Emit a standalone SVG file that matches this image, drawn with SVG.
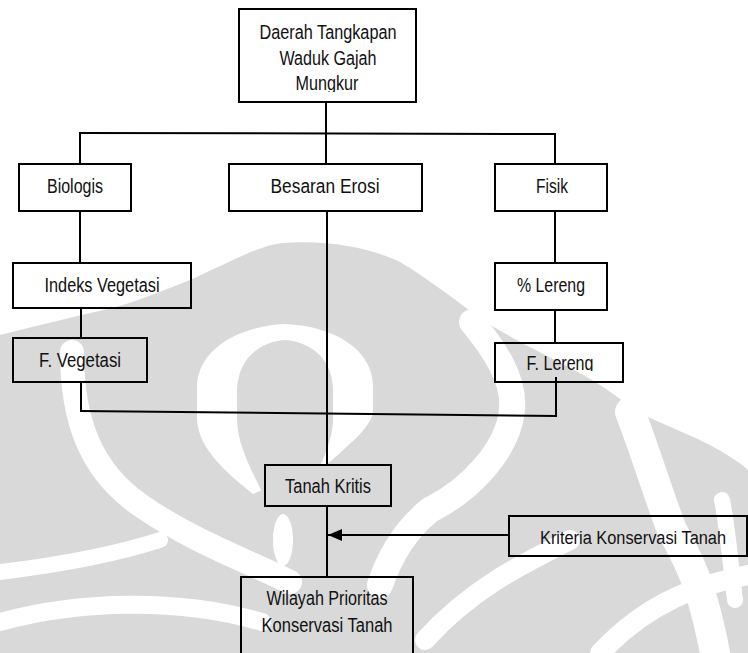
<svg xmlns="http://www.w3.org/2000/svg" width="748" height="653" viewBox="0 0 748 653">
<style>
.box{fill:none;stroke:#000;stroke-width:2}
.ln{fill:none;stroke:#000;stroke-width:2}
.t{font-family:"Liberation Sans Narrow","Liberation Sans",Arial,sans-serif;font-size:20px;fill:#111;text-anchor:middle}
.wm{fill:#d9d9d9}
.wb{fill:none;stroke:#fff;stroke-linecap:round;stroke-linejoin:round}
</style>
<defs>
<marker id="ah" viewBox="0 0 14 12" refX="14" refY="6" markerWidth="14" markerHeight="12" markerUnits="userSpaceOnUse" orient="auto">
<path d="M0,0 L14,6 L0,12 Z" fill="#000"/>
</marker>
<clipPath id="c1"><rect x="239" y="0" width="177" height="92"/></clipPath>
<clipPath id="c2"><rect x="495" y="343" width="128" height="28"/></clipPath>
</defs>
<g id="watermark">
<path class="wm" d="M0,335 C40,325 80,315 113,308 C140,300 165,290 190,280 C230,262 260,245 283,243 C330,240 370,248 400,262 C430,280 455,300 480,318 C520,345 570,365 600,385 C615,395 625,402 632,410 L700,440 C720,450 740,462 748,470 L748,653 L0,653 Z"/>
<path d="M285,324 C240,326 199,348 197,385 L197,420 C199,450 228,474 253,494 L330,462 C352,442 373,425 373,410 L373,385 C372,350 335,326 285,324 Z" fill="#fff"/>
<path class="wm" d="M285,340 C258,342 238,360 237,390 L237,420 C238,450 255,475 268,505 L302,505 C315,475 333,445 333,420 L333,390 C333,360 312,342 285,340 Z"/>
<ellipse cx="283" cy="540" rx="10" ry="26" fill="#fff"/>
<path class="wb" stroke-width="24" d="M72,352 C72,420 90,470 140,505 C190,540 245,560 290,582"/>
<path class="wb" stroke-width="26" d="M472,322 C495,350 515,380 512,410 C508,450 470,490 430,510 C405,530 390,555 380,585"/>
<path class="wb" stroke-width="30" d="M630,412 C645,450 660,500 672,530 C685,555 700,575 715,653"/>
<path class="wb" stroke-width="16" d="M722,500 C728,530 730,560 735,600"/>
<path class="wb" stroke-width="16" d="M0,572 C50,566 110,556 160,540"/>
<path class="wb" stroke-width="18" d="M0,622 C80,600 180,598 262,622"/>
<path class="wb" stroke-width="20" d="M570,540 C520,565 470,590 425,640"/>
<path class="wb" stroke-width="20" d="M748,575 C700,585 650,600 600,653"/>
</g>
<g id="connectors">
<line class="ln" x1="326" y1="102" x2="326" y2="133"/>
<line class="ln" x1="79" y1="133" x2="556" y2="134"/>
<line class="ln" x1="80" y1="133" x2="80" y2="164"/>
<line class="ln" x1="326" y1="133" x2="326" y2="164"/>
<line class="ln" x1="555" y1="134" x2="555" y2="164"/>
<line class="ln" x1="80" y1="211" x2="80" y2="263"/>
<line class="ln" x1="81" y1="308" x2="81" y2="338"/>
<line class="ln" x1="81" y1="382" x2="81" y2="411"/>
<line class="ln" x1="555" y1="211" x2="555" y2="263"/>
<line class="ln" x1="555" y1="310" x2="555" y2="343"/>
<line class="ln" x1="556" y1="377" x2="556" y2="416"/>
<line class="ln" x1="80" y1="411" x2="557" y2="416"/>
<line class="ln" x1="327" y1="211" x2="327" y2="465"/>
<line class="ln" x1="327" y1="506" x2="327" y2="577"/>
<line class="ln" x1="509" y1="535" x2="328" y2="535" marker-end="url(#ah)"/>
</g>
<g id="n-daerah">
<rect class="box" x="239" y="9" width="177" height="93"/>
<text class="t" x="328" y="39" textLength="137" lengthAdjust="spacingAndGlyphs">Daerah Tangkapan</text>
<text class="t" x="328" y="65" textLength="97" lengthAdjust="spacingAndGlyphs">Waduk Gajah</text>
<text class="t" x="327" y="90" textLength="63" lengthAdjust="spacingAndGlyphs" clip-path="url(#c1)">Mungkur</text>
</g>
<g id="n-biologis">
<rect class="box" x="19" y="164" width="112" height="47"/>
<text class="t" x="75" y="193" textLength="56" lengthAdjust="spacingAndGlyphs">Biologis</text>
</g>
<g id="n-besaran">
<rect class="box" x="229" y="164" width="193" height="47"/>
<text class="t" x="325" y="193" textLength="109" lengthAdjust="spacingAndGlyphs">Besaran Erosi</text>
</g>
<g id="n-fisik">
<rect class="box" x="495" y="164" width="112" height="47"/>
<text class="t" x="552" y="193" textLength="32" lengthAdjust="spacingAndGlyphs">Fisik</text>
</g>
<g id="n-indeks">
<rect class="box" x="13" y="263" width="178" height="45"/>
<text class="t" x="102" y="292" textLength="115" lengthAdjust="spacingAndGlyphs">Indeks Vegetasi</text>
</g>
<g id="n-lereng-pct">
<rect class="box" x="495" y="263" width="112" height="47"/>
<text class="t" x="551" y="292" textLength="68" lengthAdjust="spacingAndGlyphs">% Lereng</text>
</g>
<g id="n-fveg">
<rect class="box" x="13" y="338" width="134" height="44"/>
<text class="t" x="80" y="367" textLength="82" lengthAdjust="spacingAndGlyphs">F. Vegetasi</text>
</g>
<g id="n-flereng">
<rect class="box" x="495" y="343" width="128" height="39"/>
<text class="t" x="560" y="370" textLength="67" lengthAdjust="spacingAndGlyphs" clip-path="url(#c2)">F. Lereng</text>
</g>
<g id="n-tanah">
<rect class="box" x="265" y="465" width="126" height="41"/>
<text class="t" x="328" y="493" textLength="86" lengthAdjust="spacingAndGlyphs">Tanah Kritis</text>
</g>
<g id="n-kriteria">
<rect class="box" x="509" y="516" width="238" height="40"/>
<text class="t" x="633" y="544" font-size="18" style="font-size:18px" textLength="186" lengthAdjust="spacingAndGlyphs">Kriteria Konservasi Tanah</text>
</g>
<g id="n-wilayah">
<rect class="box" x="241" y="577" width="172" height="90"/>
<text class="t" x="327" y="605" textLength="121" lengthAdjust="spacingAndGlyphs">Wilayah Prioritas</text>
<text class="t" x="327" y="632" textLength="131" lengthAdjust="spacingAndGlyphs">Konservasi Tanah</text>
</g>
</svg>
